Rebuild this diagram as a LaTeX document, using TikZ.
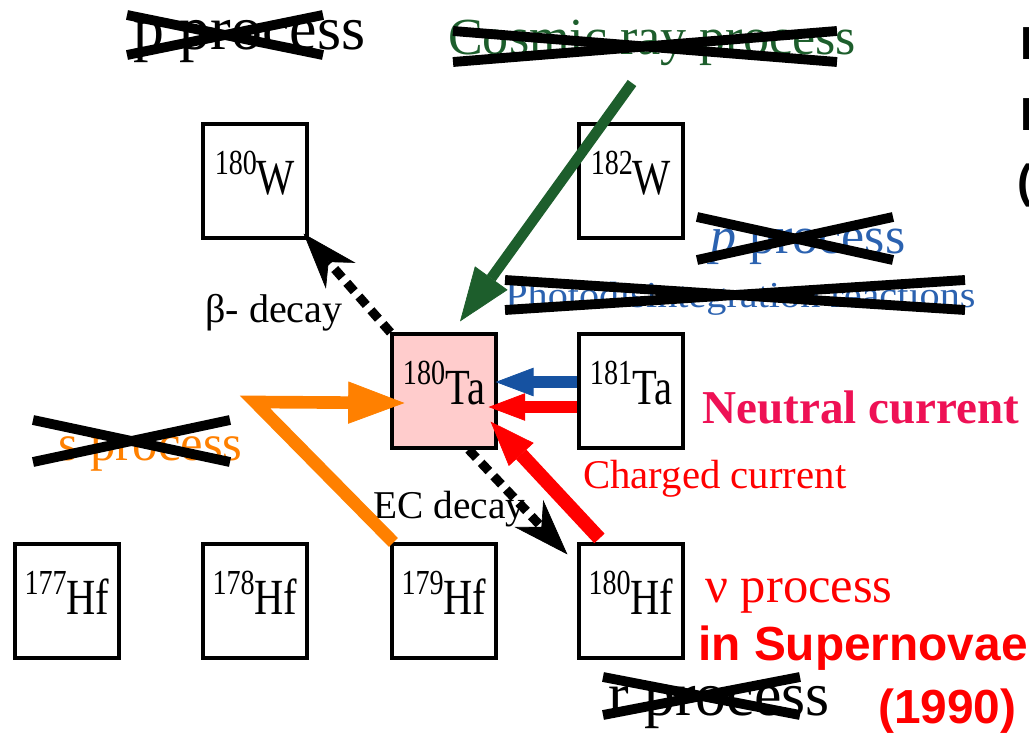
\documentclass[tikz,border=0pt]{standalone}
\usepackage{fontspec}
\setmainfont{Liberation Serif}
\setsansfont{Liberation Sans}
\newfontfamily\nucfont{Liberation Serif}[FakeStretch=0.8]
\usetikzlibrary{arrows.meta,calc}

\definecolor{crgreen}{HTML}{1D5E2C}
\definecolor{gblue}{HTML}{2B62B0}
\definecolor{arrblue}{HTML}{1652A1}
\definecolor{sorange}{HTML}{FF8000}
\definecolor{ncpink}{HTML}{EE1155}
\definecolor{tapink}{HTML}{FFCCCC}

% isotope label: mass number raised, then element
\newcommand\nuc[2]{{\fontsize{25}{25}\selectfont\raisebox{0.5cm}{#1}}#2}
% cross out a label with two diagonals
\newcommand\crossout[4]{\draw[crossline] (#1,#2) -- (#3,#4); \draw[crossline] (#1,#4) -- (#3,#2);}

\begin{document}
\begin{tikzpicture}[x=0.025cm,y=-0.025cm,
  nuclide/.style={draw,line width=2.2pt,minimum width=2.6cm,minimum height=2.85cm,
    inner sep=0pt,text depth=0.4cm,font=\nucfont\fontsize{36}{36}\selectfont},
  lbl/.style={anchor=base west,inner sep=0pt},
  crossline/.style={line width=7pt,black},
  dasharrow/.style={line width=6.5pt,dash pattern=on 8pt off 5pt,
    -{Stealth[length=40pt,width=28pt,inset=13pt,line width=0.5pt]}},
  thickarrow/.style={line width=9pt,-{Triangle[length=#1,width=0.75*#1,line width=0.5pt]}}]
  \useasboundingbox (0,0) rectangle (1029,742);

  % nuclide chart
  \node[nuclide] (w180) at (255,181) {\nuc{180}{W}};
  \node[nuclide] (w182) at (631,181) {\nuc{182}{W}};
  \node[nuclide,fill=tapink] (ta) at (444,391) {\nuc{180}{Ta}};
  \node[nuclide] (ta181) at (631,391) {\nuc{181}{Ta}};
  \node[nuclide] (hf177) at (67,601) {\nuc{177}{Hf}};
  \node[nuclide] (hf178) at (255,601) {\nuc{178}{Hf}};
  \node[nuclide] (hf179) at (444,601) {\nuc{179}{Hf}};
  \node[nuclide] (hf180) at (631,601) {\nuc{180}{Hf}};

  % process labels
  \node[lbl,font=\fontsize{44}{44}\selectfont] (pproc) at (133,50) {p process};
  \node[lbl,text=crgreen,font=\fontsize{37}{37}\selectfont] (cosmic) at (448,55) {Cosmic ray process};
  \node[lbl,text=gblue,font=\fontsize{37}{37}\selectfont] (gproc) at (710,253) {\textit{p} process};
  \node[lbl,text=gblue,font=\addfontfeature{FakeStretch=1.1}\fontsize{26}{26}\selectfont] (photo) at (505,307) {Photodisintegration reactions};
  \node[lbl,text=sorange,font=\fontsize{36}{36}\selectfont] (sproc) at (58,460) {s process};
  \node[lbl,text=ncpink,font=\bfseries\fontsize{33.5}{34}\selectfont] (nc) at (702,423) {Neutral current};
  \node[lbl,text=red,font=\fontsize{29}{29}\selectfont] (cc) at (583,488) {Charged current};
  \node[lbl,text=red,font=\fontsize{36}{36}\selectfont] (nuproc) at (705,602) {ν process};
  \node[lbl,text=red,font=\sffamily\bfseries\fontsize{34}{34}\selectfont] (sn) at (698,660) {in Supernovae};
  \node[lbl,text=red,font=\sffamily\bfseries\fontsize{34}{34}\selectfont] (year) at (878,723) {(1990)};
  \node[lbl,font=\fontsize{44}{44}\selectfont] (rproc) at (608,715) {r process};
  \node[lbl,font=\fontsize{28.5}{29}\selectfont] (beta) at (205,322) {β- decay};
  \node[lbl,font=\fontsize{28}{28}\selectfont] (ec) at (373,518) {EC decay};
  \node[lbl,font=\sffamily\bfseries\fontsize{33}{33}\selectfont] (edge1) at (1020,60) {E};
  \node[lbl,font=\sffamily\bfseries\fontsize{33}{33}\selectfont] (edge2) at (1020,130) {F};
  \node[lbl,font=\sffamily\bfseries\fontsize{33}{33}\selectfont] (edge3) at (1017,197) {(};

  % decays
  \draw[dasharrow] (ta.north west) -- ($(w180.south east)+(-5,-6)$);
  \draw[dasharrow] ($(ta.south west)!0.73!(ta.south east)$) -- ($(hf180.north west)+(-10,12)$);

  % production paths
  \coordinate (crtail) at (632,83);
  \draw[thickarrow=38pt,crgreen,line width=7.5pt] (crtail) -- ($(ta.north)+(16,-11)$);
  \draw[thickarrow=27pt,arrblue] ($(ta181.west)+(0,-9)$) -- ($(ta.east)+(-2,-9)$);
  \draw[thickarrow=26pt,red] ($(ta181.west)+(0,16)$) -- ($(ta.east)+(-9,16)$);
  \draw[thickarrow=32pt,red,line width=10pt] ($(hf180.north west)+(22,-4)$) -- ($(ta.south east)+(-7,-28)$);
  \coordinate (sapex) at (255,402);
  \draw[thickarrow=40pt,sorange] ($(hf179.north west)+(3,0)$) -- (sapex) -- ($(ta.west)+(14,12)$);

  % ruled-out processes
  \crossout{127}{15}{323}{55}
  \crossout{453}{31}{837}{62}
  \crossout{697}{217}{893}{260}
  \crossout{505}{280}{965}{310}
  \crossout{33}{420}{230}{462}
  \crossout{603}{677}{800}{715}
\end{tikzpicture}
\end{document}
